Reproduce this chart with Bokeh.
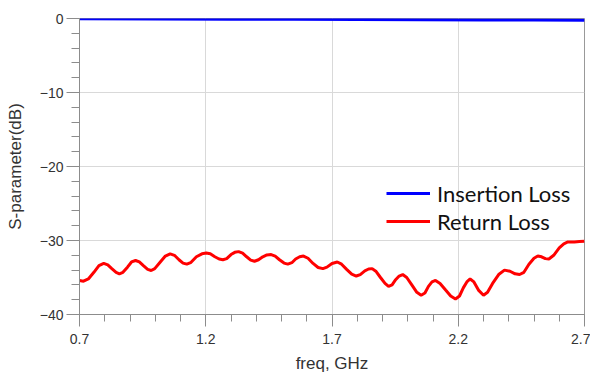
from bokeh.plotting import figure
from bokeh.models import FixedTicker, Legend, LegendItem, Range1d
from bokeh.embed import file_html
from bokeh.resources import INLINE

# Insertion loss (S21, dB)
il_freq = [0.70, 1.00, 1.30, 1.55, 1.80, 2.05, 2.30, 2.50, 2.70]
il_db = [-0.05, -0.07, -0.10, -0.11, -0.13, -0.16, -0.19, -0.20, -0.22]

# Return loss (S11, dB)
rl_freq = [0.700, 0.716, 0.735, 0.757, 0.777, 0.796, 0.812, 0.828, 0.845, 0.858,
           0.872, 0.890, 0.906, 0.922, 0.937, 0.953, 0.970, 0.984, 0.998, 1.020,
           1.040, 1.059, 1.076, 1.094, 1.110, 1.125, 1.140, 1.163, 1.185, 1.202,
           1.218, 1.236, 1.253, 1.268, 1.283, 1.300, 1.315, 1.330, 1.346, 1.362,
           1.378, 1.393, 1.409, 1.426, 1.442, 1.459, 1.475, 1.492, 1.510, 1.525,
           1.541, 1.556, 1.572, 1.587, 1.605, 1.625, 1.645, 1.664, 1.680, 1.700,
           1.721, 1.738, 1.758, 1.778, 1.796, 1.812, 1.830, 1.845, 1.859, 1.875,
           1.892, 1.910, 1.924, 1.938, 1.952, 1.966, 1.980, 1.996, 2.016, 2.036,
           2.053, 2.068, 2.082, 2.096, 2.110, 2.128, 2.150, 2.170, 2.189, 2.205,
           2.220, 2.234, 2.247, 2.262, 2.280, 2.300, 2.316, 2.336, 2.360, 2.383,
           2.405, 2.425, 2.443, 2.460, 2.480, 2.500, 2.515, 2.530, 2.545, 2.559,
           2.578, 2.600, 2.618, 2.634, 2.660, 2.680, 2.700]
rl_db = [-35.4, -35.5, -35.2, -34.3, -33.4, -33.1, -33.3, -33.8, -34.3, -34.5,
         -34.3, -33.6, -32.9, -32.7, -32.9, -33.4, -33.9, -34.05, -33.8, -32.9,
         -32.1, -31.8, -32.0, -32.6, -33.05, -33.2, -33.0, -32.2, -31.8, -31.7,
         -31.8, -32.2, -32.5, -32.6, -32.45, -31.9, -31.6, -31.5, -31.7, -32.2,
         -32.65, -32.8, -32.6, -32.2, -31.95, -31.9, -32.1, -32.6, -33.05, -33.2,
         -33.0, -32.5, -32.2, -32.1, -32.4, -33.1, -33.65, -33.8, -33.6, -33.1,
         -32.9, -33.2, -33.9, -34.55, -34.8, -34.6, -34.1, -33.85, -33.8, -34.2,
         -35.0, -35.8, -36.2, -36.0, -35.3, -34.8, -34.6, -35.0, -36.0, -37.0,
         -37.4, -37.1, -36.2, -35.6, -35.4, -35.8, -36.7, -37.5, -37.9, -37.5,
         -36.4, -35.6, -35.2, -35.6, -36.7, -37.4, -37.0, -35.8, -34.6, -34.0,
         -34.15, -34.5, -34.6, -34.3, -33.2, -32.4, -32.1, -32.2, -32.45, -32.5,
         -32.0, -31.0, -30.45, -30.2, -30.2, -30.15, -30.1]

x_major = [0.7, 1.2, 1.7, 2.2, 2.7]
x_minor = [round(0.7 + 0.1 * i, 1) for i in range(21)]
y_major = [-40, -30, -20, -10, 0]
y_minor = list(range(-40, 1, 2))

p = figure(width=590, height=377, output_backend="svg", toolbar_location=None,
           x_range=Range1d(0.7, 2.7), y_range=Range1d(-40, 0),
           min_border_left=79, min_border_right=6, min_border_top=18,
           min_border_bottom=63)
p.outline_line_color = "#999999"
p.outline_line_width = 1
p.background_fill_color = "white"
p.border_fill_color = "white"

p.xaxis.ticker = FixedTicker(ticks=x_major, minor_ticks=x_minor)
p.yaxis.ticker = FixedTicker(ticks=y_major, minor_ticks=y_minor)
p.xaxis.major_label_overrides = {0.7: "0.7", 1.2: "1.2", 1.7: "1.7", 2.2: "2.2", 2.7: "2.7"}

for ax in (p.xaxis[0], p.yaxis[0]):
    ax.axis_line_color = "#8c8c8c"
    ax.major_tick_line_color = "#8c8c8c"
    ax.minor_tick_line_color = "#8c8c8c"
    ax.major_tick_in = 0
    ax.minor_tick_in = 0
    ax.major_label_text_font = "Liberation Sans"
    ax.major_label_text_font_size = "14px"
    ax.major_label_text_color = "#333333"
    ax.axis_label_text_font = "Liberation Sans"
    ax.axis_label_text_font_size = "17px"
    ax.axis_label_text_font_style = "normal"
    ax.axis_label_text_color = "#333333"

p.yaxis.major_tick_out = 13
p.yaxis.minor_tick_out = 8
p.yaxis.major_label_standoff = 3
p.yaxis.axis_label = "S-parameter(dB)"
p.yaxis.axis_label_standoff = 12

p.xaxis.major_tick_out = 12
p.xaxis.minor_tick_out = 7
p.xaxis.major_label_standoff = 7
p.xaxis.axis_label = "freq, GHz"
p.xaxis.axis_label_standoff = 7

p.xgrid.ticker = FixedTicker(ticks=x_major)
p.ygrid.ticker = FixedTicker(ticks=y_major)
p.grid.grid_line_color = "#d9d9d9"
p.grid.grid_line_width = 1

r_rl = p.line(rl_freq, rl_db, line_color="#ff0000", line_width=3)
r_il = p.line(il_freq, il_db, line_color="#0000ff", line_width=3)

legend = Legend(items=[LegendItem(label="Insertion Loss", renderers=[r_il]),
                       LegendItem(label="Return Loss", renderers=[r_rl])],
                location=(307, 79), padding=0, margin=0, spacing=0,
                glyph_width=44, glyph_height=28, label_height=28,
                label_standoff=7,
                label_text_font="Lato", label_text_font_size="22px",
                label_text_color="#111111",
                background_fill_alpha=0, border_line_alpha=0)
p.add_layout(legend, "center")

open("out.html", "w").write(file_html(p, INLINE))
